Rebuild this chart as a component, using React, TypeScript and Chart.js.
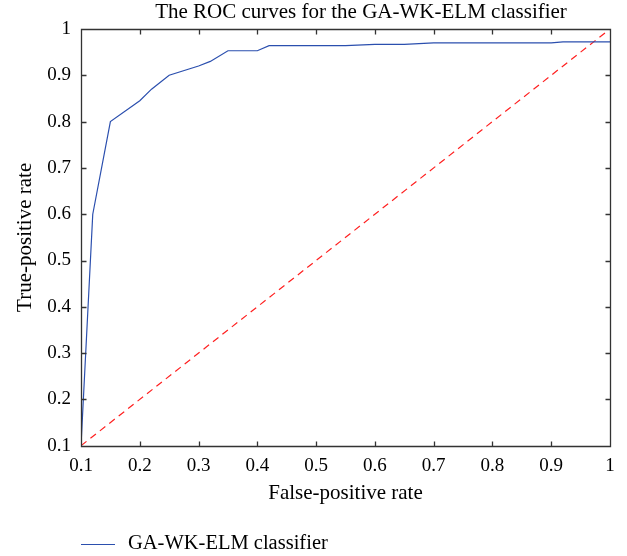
import React, { useEffect, useRef } from "react";
import { Chart, registerables } from "chart.js";

Chart.register(...registerables);

const fpr = [0.1, 0.12, 0.15, 0.2, 0.22, 0.25, 0.3, 0.32, 0.35, 0.4, 0.42, 0.55, 0.6, 0.65, 0.7, 0.9, 0.92, 1.0];
const tpr = [0.1, 0.6, 0.8, 0.845, 0.87, 0.9, 0.92, 0.93, 0.953, 0.953, 0.964, 0.964, 0.967, 0.967, 0.97, 0.97, 0.972, 0.972];
const diagX = [0.1, 1.0];
const diagY = [0.1, 1.0];
const xTicks = [0.1, 0.2, 0.3, 0.4, 0.5, 0.6, 0.7, 0.8, 0.9, 1];
const yTicks = [0.1, 0.2, 0.3, 0.4, 0.5, 0.6, 0.7, 0.8, 0.9, 1];

const titleText = "The ROC curves for the GA-WK-ELM classifier";
const xTitle = "False-positive rate";
const yTitle = "True-positive rate";
const seriesLabel = "GA-WK-ELM classifier";

const FONT = "'Liberation Serif', 'DejaVu Serif', serif";
const BLUE = "#2b4fae";

const fmt = (v: number) => (Math.abs(v - 1) < 1e-9 ? "1" : v.toFixed(1));

const decorPlugin = {
  id: "decor",
  afterDraw(chart: any) {
    const { ctx, chartArea } = chart;
    const { left, right, top, bottom } = chartArea;
    const xs = chart.scales.x;
    const ys = chart.scales.y;
    ctx.save();
    ctx.strokeStyle = "#333";
    ctx.lineWidth = 1.3;
    ctx.beginPath();
    const L = Math.round(left) + 0.5, R = Math.round(right) + 0.5, T = Math.round(top) + 0.5, B = Math.round(bottom) + 0.5;
    ctx.rect(L, T, R - L, B - T);
    const tl = 5;
    xTicks.forEach((v) => {
      const p = Math.round(xs.getPixelForValue(v)) + 0.5;
      ctx.moveTo(p, B); ctx.lineTo(p, B - tl);
      ctx.moveTo(p, T); ctx.lineTo(p, T + tl);
    });
    yTicks.forEach((v) => {
      const p = Math.round(ys.getPixelForValue(v)) + 0.5;
      ctx.moveTo(L, p); ctx.lineTo(L + tl, p);
      ctx.moveTo(R, p); ctx.lineTo(R - tl, p);
    });
    ctx.stroke();

    // title
    ctx.fillStyle = "#000";
    ctx.font = `21px ${FONT}`;
    ctx.textAlign = "center";
    ctx.textBaseline = "middle";
    ctx.fillText(titleText, 361, 12.5);

    // legend
    ctx.strokeStyle = BLUE;
    ctx.lineWidth = 1.2;
    ctx.beginPath();
    ctx.moveTo(81, 544.5);
    ctx.lineTo(115, 544.5);
    ctx.stroke();
    ctx.textAlign = "left";
    ctx.font = `20.5px ${FONT}`;
    ctx.fillText(seriesLabel, 128, 544);
    ctx.restore();
  },
};

export default function App() {
  const ref = useRef<HTMLCanvasElement>(null);
  useEffect(() => {
    const canvas = ref.current!;
    const tickFont = { family: FONT, size: 19 };
    const chart = new Chart(canvas, {
      type: "line",
      data: {
        datasets: [
          {
            label: seriesLabel,
            data: fpr.map((x, i) => ({ x, y: tpr[i] })),
            borderColor: BLUE,
            borderWidth: 1.2,
            pointRadius: 0,
            tension: 0,
            fill: false,
          },
          {
            label: "chance",
            data: diagX.map((x, i) => ({ x, y: diagY[i] })),
            borderColor: "#ff2020",
            borderWidth: 1.2,
            borderDash: [7, 5],
            pointRadius: 0,
            fill: false,
          },
        ],
      },
      options: {
        responsive: false,
        animation: false,
        devicePixelRatio: 1,
        layout: { padding: { left: 13, top: 29, right: 17, bottom: 50 } },
        plugins: { legend: { display: false }, title: { display: false }, tooltip: { enabled: false } },
        scales: {
          x: {
            type: "linear",
            min: 0.1,
            max: 1,
            afterBuildTicks: (s: any) => { s.ticks = xTicks.map((v) => ({ value: v })); },
            afterFit: (s: any) => { s.height = 556 - 445.7 - 50; },
            ticks: { font: tickFont, color: "#000", padding: 9, maxRotation: 0, autoSkip: false, callback: (v: any) => fmt(Number(v)) },
            grid: { display: false, drawTicks: false },
            border: { display: false },
            title: { display: true, text: xTitle, font: { family: FONT, size: 21 }, color: "#000", padding: { top: 0, bottom: 0 } },
          },
          y: {
            type: "linear",
            min: 0.1,
            max: 1,
            afterBuildTicks: (s: any) => { s.ticks = yTicks.map((v) => ({ value: v })); },
            afterFit: (s: any) => { s.width = 81 - 13; },
            ticks: { font: tickFont, color: "#000", padding: 10, autoSkip: false, callback: (v: any) => fmt(Number(v)) },
            grid: { display: false, drawTicks: false },
            border: { display: false },
            title: { display: true, text: yTitle, font: { family: FONT, size: 21 }, color: "#000", padding: { top: 0, bottom: 0 } },
          },
        },
      },
      plugins: [decorPlugin],
    });
    return () => chart.destroy();
  }, []);
  return (
    <div style={{ position: "absolute", left: 0, top: 0, width: 627, height: 556, background: "#fff" }}>
      <canvas ref={ref} width={627} height={556} />
    </div>
  );
}
